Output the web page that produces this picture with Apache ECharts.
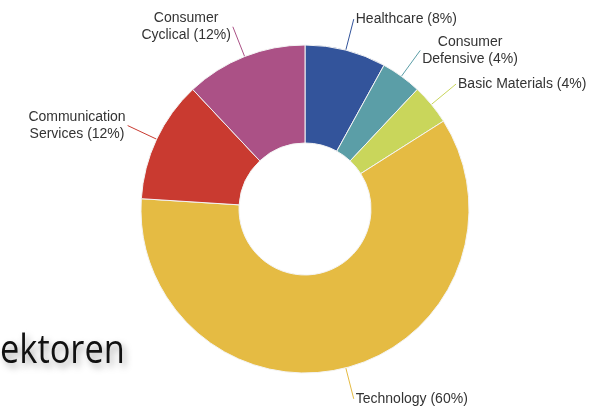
<!DOCTYPE html>
<html>
<head>
<meta charset="utf-8">
<script src="https://cdn.jsdelivr.net/npm/echarts@6/dist/echarts.min.js"></script>
<style>
html,body{margin:0;padding:0;background:#fff;}
#main{width:613px;height:408px;}
</style>
</head>
<body>
<div id="main"></div>
<script>
const sectors = ['Healthcare', 'Consumer\nDefensive', 'Basic Materials', 'Technology', 'Communication\nServices', 'Consumer\nCyclical'];
const shares = [8, 4, 4, 60, 12, 12];
const colors = ['#33549b', '#5b9ea7', '#c9d65b', '#e5bb43', '#c93a30', '#ab5186'];
const titleText = 'ektoren';

const chart = echarts.init(document.getElementById('main'));
const data = sectors.map((s, i) => ({ name: s, value: shares[i], itemStyle: { color: colors[i] } }));

chart.setOption({
  animation: false,
  backgroundColor: '#ffffff',
  graphic: [{
    type: 'text',
    left: 0,
    top: 332,
    scaleX: 0.86,
    style: {
      text: titleText,
      font: '40px "Open Sans"',
      fill: '#111111',
      textShadowColor: 'rgba(0,0,0,0.35)',
      textShadowBlur: 7,
      textShadowOffsetX: 3,
      textShadowOffsetY: 4
    }
  }],
  series: [{
    type: 'pie',
    center: [305, 209],
    radius: [66, 164],
    startAngle: 90,
    clockwise: true,
    avoidLabelOverlap: false,
    itemStyle: { borderColor: '#f4f4f4', borderWidth: 1 },
    label: {
      show: true,
      position: 'outside',
      distanceToLabelLine: 2,
      fontFamily: '"Liberation Sans", Arial, sans-serif',
      fontSize: 14,
      lineHeight: 17,
      color: '#333333',
      formatter: function (p) {
        const lines = (p.name + ' (' + p.value + '%)').split('\n');
        return lines.map(l => '{c|' + l + '}').join('\n');
      },
      rich: {
        c: {
          align: 'center',
          fontFamily: '"Liberation Sans", Arial, sans-serif',
          fontSize: 14,
          lineHeight: 17,
          color: '#333333'
        }
      }
    },
    labelLine: {
      show: true,
      length: 32,
      length2: 0,
      smooth: false,
      lineStyle: { width: 1 }
    },
    emphasis: { disabled: true },
    data: data
  }]
});
</script>
</body>
</html>
